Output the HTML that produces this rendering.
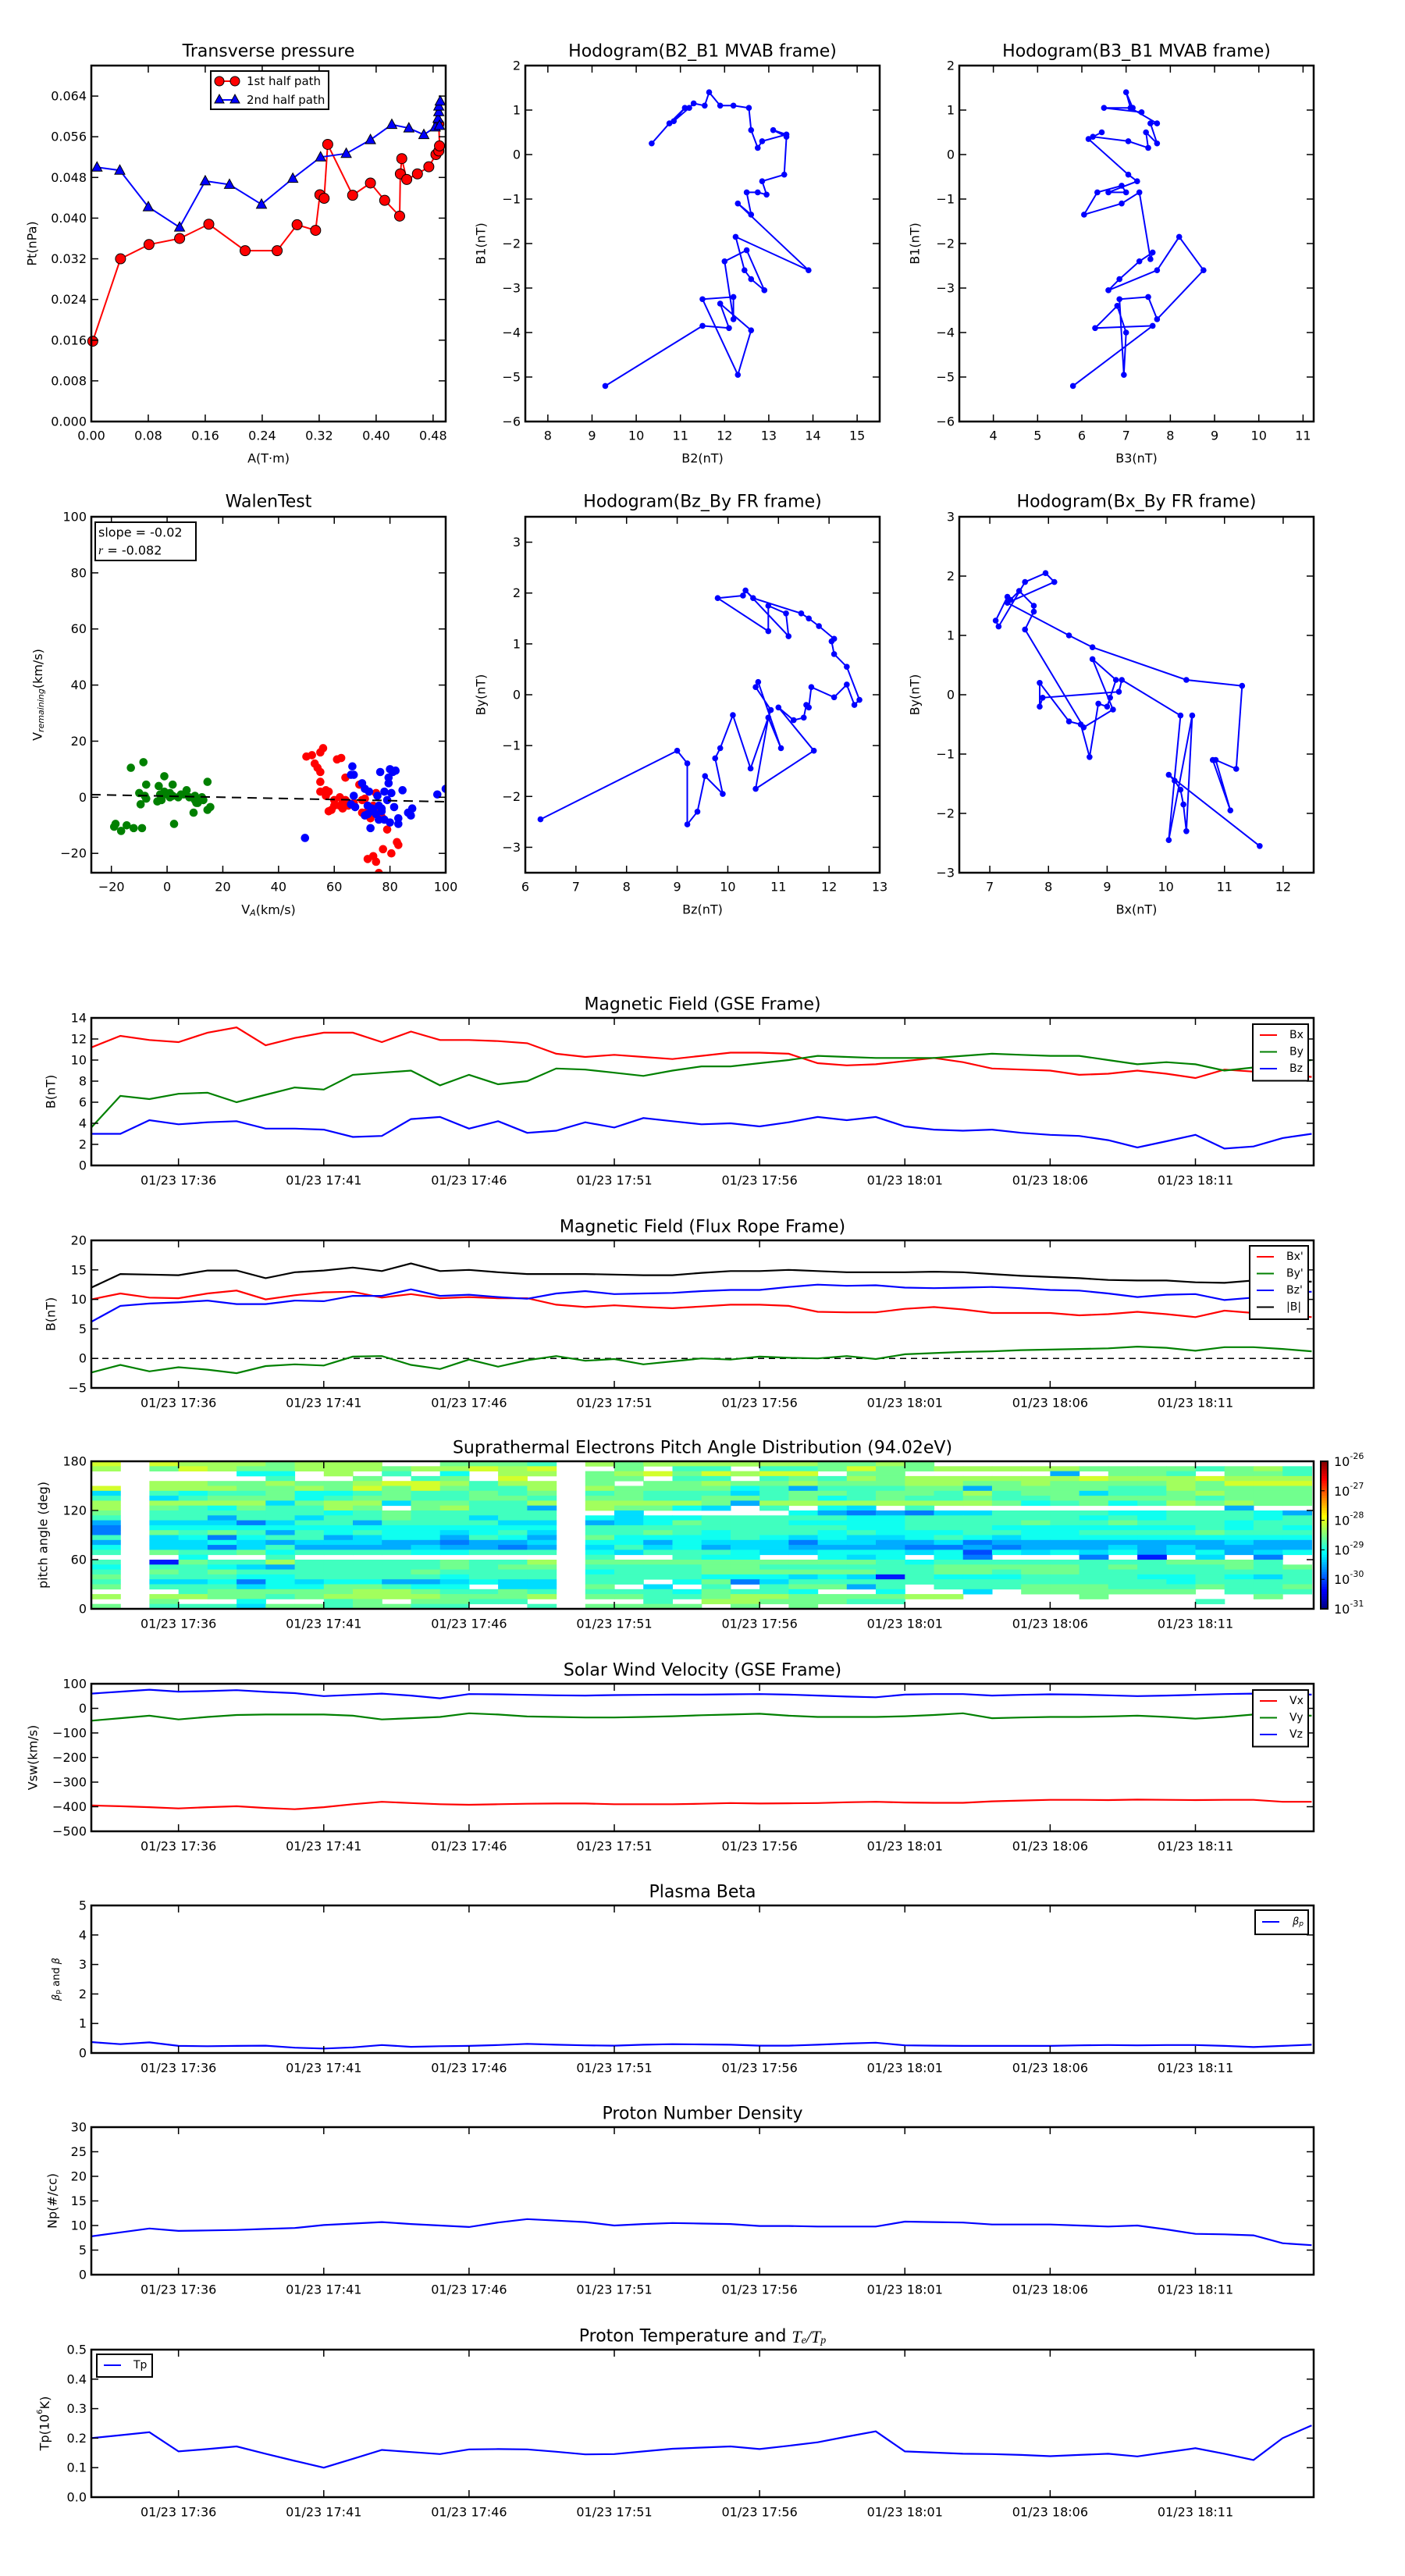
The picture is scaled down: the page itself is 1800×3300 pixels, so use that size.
<!DOCTYPE html>
<html><head><meta charset="utf-8"><title>Flux rope analysis</title>
<style>
html,body{margin:0;padding:0;background:#fff;}
svg{display:block;font-family:"DejaVu Sans","Liberation Sans",sans-serif;}
</style></head>
<body>
<svg id="fig" xmlns="http://www.w3.org/2000/svg" width="1800" height="3300" viewBox="0 0 1800 3300">
<rect x="0" y="0" width="1800" height="3300" fill="#fff"/>
</svg>
<script>
// ---------- DATA ----------
const ptRedA=[0.002,0.041,0.081,0.124,0.165,0.216,0.261,0.289,0.315,0.321,0.327,0.332,0.367,0.392,0.412,0.433,0.434,0.436,0.443,0.458,0.474,0.484,0.488,0.489,0.488];
const ptRedP=[0.0158,0.0320,0.0348,0.0360,0.0388,0.0336,0.0336,0.0387,0.0376,0.0446,0.0439,0.0545,0.0445,0.0469,0.0435,0.0404,0.0487,0.0517,0.0476,0.0487,0.0501,0.0525,0.0532,0.0542,0.0585];
const ptBlueA=[0.008,0.040,0.080,0.124,0.160,0.194,0.239,0.283,0.322,0.358,0.392,0.422,0.446,0.467,0.483,0.487,0.488,0.488,0.490,0.489];
const ptBlueP=[0.0500,0.0494,0.0422,0.0382,0.0473,0.0466,0.0427,0.0478,0.0520,0.0527,0.0554,0.0584,0.0577,0.0564,0.0579,0.0596,0.0609,0.0620,0.0630,0.0582];
const ptXTicks=[0,0.08,0.16,0.24,0.32,0.40,0.48];
const ptXLabels=["0.00","0.08","0.16","0.24","0.32","0.40","0.48"];
const ptYTicks=[0,0.008,0.016,0.024,0.032,0.040,0.048,0.056,0.064];
const ptYLabels=["0.000","0.008","0.016","0.024","0.032","0.040","0.048","0.056","0.064"];

const h1B2=[9.3,11.5,12.1,11.9,12.6,12.3,11.5,12.2,12.2,12.0,12.5,12.9,12.6,12.45,12.25,13.9,12.3,12.6,12.5,12.75,12.95,12.85,13.35,13.4,13.1,13.4,12.85,12.75,12.6,12.55,12.2,11.9,11.65,11.55,11.3,11.2,10.85,11.1,10.75,10.35];
const h1B1=[-5.2,-3.85,-3.9,-3.35,-3.95,-4.95,-3.25,-3.2,-3.7,-2.4,-2.15,-3.05,-2.8,-2.6,-1.85,-2.6,-1.1,-1.35,-0.85,-0.85,-0.9,-0.6,-0.45,0.4,0.55,0.45,0.3,0.15,0.55,1.05,1.1,1.1,1.4,1.1,1.15,1.05,0.75,1.05,0.7,0.25];
const h2B3=[5.8,7.6,6.3,6.8,7.0,6.95,6.85,7.5,7.7,8.75,8.2,7.7,6.6,6.85,7.3,7.6,7.55,7.3,6.9,6.05,6.35,6.9,7.0,6.6,7.25,7.05,6.15,6.45,6.25,7.05,7.5,7.45,7.7,7.55,7.7,7.1,7.0,7.15,6.5,7.35];
const h2B1=[-5.2,-3.85,-3.9,-3.4,-4.0,-4.95,-3.25,-3.2,-3.7,-2.6,-1.85,-2.6,-3.05,-2.8,-2.4,-2.2,-2.35,-0.85,-1.1,-1.35,-0.85,-0.7,-0.85,-0.85,-0.6,-0.45,0.35,0.5,0.4,0.3,0.15,0.5,0.25,0.7,0.7,1.05,1.4,1.05,1.05,0.95];
const h3Bz=[6.3,9.0,9.2,9.2,9.4,9.55,9.9,9.75,9.85,10.1,10.45,10.85,10.55,10.6,11.05,10.8,10.55,11.7,11.0,11.3,11.5,11.55,11.6,11.65,12.1,12.35,12.5,12.6,12.35,12.1,12.05,12.1,11.8,11.6,11.45,10.5,10.35,11.2,11.15,10.8,10.8,9.8,10.3];
const h3By=[-2.45,-1.1,-1.35,-2.55,-2.3,-1.6,-1.95,-1.25,-1.05,-0.4,-1.45,-0.3,0.15,0.25,-1.05,-0.45,-1.85,-1.1,-0.25,-0.5,-0.45,-0.2,-0.25,0.15,-0.05,0.2,-0.2,-0.1,0.55,0.8,1.05,1.1,1.35,1.5,1.6,1.9,2.05,1.15,1.6,1.75,1.25,1.9,1.95];
const h4Bx=[11.6,10.05,10.15,10.25,10.3,10.35,10.45,10.05,10.25,9.25,9.2,7.9,7.85,7.85,8.35,8.55,8.7,8.85,9.0,9.05,9.15,8.75,9.1,8.6,7.6,7.75,7.75,7.5,7.35,7.3,7.1,7.15,7.6,7.95,8.1,7.3,8.35,8.75,10.35,11.3,11.2,10.85,11.1,10.8];
const h4By=[-2.55,-1.35,-1.45,-1.6,-1.85,-2.3,-0.35,-2.45,-0.35,0.25,0.05,-0.05,-0.2,0.2,-0.45,-0.5,-1.05,-0.15,-0.2,-0.05,0.25,0.6,-0.25,-0.55,1.1,1.4,1.5,1.75,1.6,1.65,1.25,1.15,1.9,2.05,1.9,1.55,1.0,0.8,0.25,0.15,-1.25,-1.1,-1.95,-1.1];

const walGreenX=[-19,-18.5,-16.5,-14.5,-12,-9,-13,-8.5,-7.5,-10,-9.5,-7.5,-8,-3,-1,2,-3.5,-2,-2.5,0,1,2,4,5,7,8,10,10.5,11,12.5,13,14.5,14.5,15.5,9.5,2.5,-1,1,6,10];
const walGreenY=[-10.5,-9.5,-12,-10,-11,-11,10.5,12.5,4.5,1.5,-2.5,-0.5,0.5,4,7.5,4.5,-1.5,-1,1,1,0,0.5,0,1,2.5,0,0.5,-2,-2,0,-1,5.5,-4.5,-3.5,-5.5,-9.5,2,1.5,1,-1];
const walRedX=[50,52,53,54,55,56,55,55,55,57,58,58,59,60,61,62.5,64,62,63,63,62,65,67,69,70,70,72,73,75,74,76,77,79,82.5,83,80.5,77.5,72,74,75,76,71,60,57,64];
const walRedY=[14.5,15,12,10.5,16,17.5,9,5.5,2,2.5,2,-5,-4.5,-1,13.5,14,7,0,-2,-4,-3,-3,-2,4.5,-1,-5.5,-5,-7.5,1.5,-3,-5,-7,-11.5,-16,-17,-20,-18.5,-22,-21,-23,-27,-0.5,-3,0.5,-1];
const walBlueX=[49.5,66.5,66,67,67,66,67.5,70,71,72.5,71,72,72,73,73.5,75,75.5,76,76,77,77,76.5,78,79,79.5,79.5,80,81,82,80.5,81.5,80,83,83,84.5,86.5,87.5,88,97,100,78,74];
const walBlueY=[-14.5,11,8,8,0.5,-2.5,-3.5,5,3,2,-6.5,-3,-6,-11,-4,-6,0.5,-3,-8,-5,-4,9,2,-1,7,5,10,9,9.5,1.5,-3.5,-9,-7.5,-9.5,2.5,-5.5,-6.5,-4,1,3,-8,-5];
const walFit=[-0.02,0.4];

const timeTickIdx=[3,8,13,18,23,28,33,38];
const timeTickLabels=["01/23 17:36","01/23 17:41","01/23 17:46","01/23 17:51","01/23 17:56","01/23 18:01","01/23 18:06","01/23 18:11"];

const gseBx=[11.2,12.3,11.9,11.7,12.6,13.1,11.4,12.1,12.6,12.6,11.7,12.7,11.9,11.9,11.8,11.6,10.6,10.3,10.5,10.3,10.1,10.4,10.7,10.7,10.6,9.7,9.5,9.6,9.9,10.2,9.8,9.2,9.1,9.0,8.6,8.7,9.0,8.7,8.3,9.1,8.9,8.7,8.4];
const gseBy=[3.6,6.6,6.3,6.8,6.9,6.0,6.7,7.4,7.2,8.6,8.8,9.0,7.6,8.6,7.7,8.0,9.2,9.1,8.8,8.5,9.0,9.4,9.4,9.7,10.0,10.4,10.3,10.2,10.2,10.2,10.4,10.6,10.5,10.4,10.4,10.0,9.6,9.8,9.6,9.0,9.3,9.8,10.0];
const gseBz=[3.0,3.0,4.3,3.9,4.1,4.2,3.5,3.5,3.4,2.7,2.8,4.4,4.6,3.5,4.2,3.1,3.3,4.1,3.6,4.5,4.2,3.9,4.0,3.7,4.1,4.6,4.3,4.6,3.7,3.4,3.3,3.4,3.1,2.9,2.8,2.4,1.7,2.3,2.9,1.6,1.8,2.6,3.0];

const frBx=[10.0,11.0,10.3,10.2,11.0,11.5,10.0,10.7,11.2,11.3,10.3,10.9,10.2,10.4,10.2,10.2,9.1,8.7,9.0,8.7,8.5,8.8,9.1,9.1,8.9,7.9,7.8,7.8,8.4,8.7,8.3,7.7,7.7,7.7,7.3,7.5,7.9,7.5,7.0,8.1,7.7,7.5,7.0];
const frBy=[-2.4,-1.1,-2.2,-1.5,-1.9,-2.5,-1.3,-1.0,-1.2,0.3,0.4,-1.1,-1.8,-0.2,-1.4,-0.3,0.4,-0.4,-0.1,-1.0,-0.5,0.0,-0.2,0.3,0.1,0.0,0.4,-0.1,0.7,0.9,1.1,1.2,1.4,1.5,1.6,1.7,2.0,1.8,1.3,1.9,1.9,1.6,1.2];
const frBz=[6.2,8.9,9.3,9.5,9.8,9.2,9.2,9.8,9.7,10.6,10.6,11.7,10.6,10.8,10.4,10.1,11.0,11.4,10.9,11.0,11.1,11.4,11.6,11.6,12.1,12.5,12.3,12.4,12.0,11.9,12.0,12.1,11.9,11.6,11.5,11.0,10.4,10.8,10.9,9.9,10.3,11.2,11.3];
const frBt=[12.0,14.3,14.2,14.1,14.9,14.9,13.6,14.6,14.9,15.4,14.8,16.1,14.8,15.0,14.6,14.3,14.3,14.3,14.2,14.1,14.1,14.5,14.8,14.8,15.0,14.8,14.6,14.6,14.6,14.7,14.6,14.3,14.0,13.8,13.6,13.3,13.2,13.2,12.9,12.8,13.2,13.0,13.0];

// PAD: rows from 180 deg (top) to 0 deg (bottom), one char per minute column; '.' = no data, digit = level
const padRows=[
"9 . 98887888..7776 . 8788 88887787 .............",
"8 . 79877888788989 . .7.6 6.667977 8888877776786",
". . ...55.8.6.5.88 . 7897 9899.77. ....3.776.776",
". . ....6..7.67.9. . 77.6 6.676878 8888898889888",
". . 88778778998688 . 7.77 87787778 8778777787999",
"9 . 88877879797668 . 8777 75636667 7377776687777",
"4 . 65667556766767 . 6766 64677677 6867746678777",
"6 . 46777567766776 . 7766 77675676 6766777776777",
"8 . 88884788477668 . 8888 73888888 8875675687877",
"8 . 76576687.78663 . 8775 4.6.54.6 ..........3..",
"7 . 66666656766666 . .4.. ...53232 4466665566653",
"6 . 66366466766466 . 5455 66666556 6666656566656",
"3 . 44424663666644 . 3457 66655556 6667667666566",
"2 . 55555555555555 . 6666 66666556 6655555556565",
"2 . 76763656554564 . 6676 56665655 5665566667666",
"6 . 45256634553653 . 7555 56545445 6545555555555",
"3 . 44543444332334 . 5535 44424433 4233333333433",
"5 . 44246333343323 . 4645 34433332 2323334343333",
"6 . 76675666655666 . 5466 65445554 5154545345345",
". . .5..6......... . 6..6 55..545. 52...2.0.4.2.",
"6 . 07668666667668 . 7777 77777765 666666667776.",
"5 . 66543666667677 . 6666 77666666 7777767666767",
"6 . 76766666676666 . 5666 77777766 7767766666666",
"7 . 66655666665666 . 6666 55545406 5556666556546",
"6 . 44525455334544 . 66.5 72466666 6666666656666",
"7 . 66645577655.44 . 7.4. 6.67736. 6667776667667",
". . .6777778876676 . 6665 7665..5. .4.777777.666",
"8 . 88776788887778 . 7766 78877778 8....7.....7.",
". . 7..5..67.7766. . ..6. 8877766. .........6...",
"7 . 66647767766..6 . 7777 .7.7.... ............."
];
const padCbarTicks=[-26,-27,-28,-29,-30,-31];

const vswVx=[-395,-398,-402,-407,-402,-398,-405,-410,-402,-390,-380,-385,-390,-392,-390,-388,-387,-387,-390,-390,-390,-388,-385,-387,-386,-385,-382,-380,-383,-384,-384,-378,-375,-372,-372,-373,-371,-372,-373,-372,-372,-380,-380];
const vswVy=[-50,-40,-30,-45,-35,-27,-25,-25,-25,-30,-45,-40,-35,-20,-25,-33,-35,-37,-37,-35,-32,-28,-25,-22,-30,-35,-35,-35,-32,-27,-20,-40,-37,-35,-35,-33,-30,-35,-42,-35,-25,-28,-30];
const vswVz=[60,68,76,68,70,74,67,62,50,55,60,52,41,58,57,55,53,52,54,55,56,56,57,58,56,52,48,45,56,58,58,52,55,57,56,53,50,52,55,58,60,58,56];

const betaP=[0.37,0.30,0.36,0.24,0.23,0.24,0.25,0.18,0.15,0.19,0.27,0.21,0.23,0.24,0.27,0.31,0.28,0.26,0.25,0.28,0.30,0.29,0.28,0.25,0.25,0.28,0.32,0.35,0.26,0.25,0.24,0.24,0.24,0.24,0.26,0.27,0.26,0.27,0.27,0.24,0.20,0.24,0.28];
const densNp=[7.8,8.6,9.4,8.9,9.0,9.1,9.3,9.5,10.1,10.4,10.7,10.3,10.0,9.7,10.6,11.3,11.0,10.7,10.0,10.3,10.5,10.4,10.3,9.9,9.9,9.8,9.8,9.8,10.8,10.7,10.6,10.2,10.2,10.2,10.0,9.8,10.0,9.2,8.3,8.2,8.0,6.4,6.0];
const tempTp=[0.20,0.21,0.22,0.155,0.163,0.172,0.147,0.123,0.100,0.13,0.16,0.153,0.146,0.162,0.163,0.162,0.154,0.145,0.146,0.155,0.164,0.168,0.172,0.163,0.174,0.186,0.205,0.223,0.155,0.151,0.147,0.146,0.143,0.139,0.143,0.147,0.138,0.152,0.166,0.147,0.126,0.20,0.243];

// ---------- HELPERS ----------
const NS="http://www.w3.org/2000/svg";
const fig=document.getElementById('fig');
function mk(tag,attrs,parent){const e=document.createElementNS(NS,tag);for(const k in attrs)e.setAttribute(k,attrs[k]);(parent||fig).appendChild(e);return e;}
function txt(s,x,y,size,anchor,parent,extra){const e=mk('text',Object.assign({x:x,y:y,'font-size':size,'text-anchor':anchor||'middle','dominant-baseline':'central',fill:'#000'},extra||{}),parent);e.textContent=s;return e;}
function lin(a0,a1,b0,b1){return v=>b0+(v-a0)*(b1-b0)/(a1-a0);}

function axesFrame(g,x0,y0,x1,y1){
  const r=mk('rect',{x:x0,y:y0,width:x1-x0,height:y1-y0,fill:'none',stroke:'#000','stroke-width':2.5},g);
  
  
}
function xTicks(g,sx,ticks,labels,x0,y0,x1,y1,fs,ly){
  ticks.forEach((t,i)=>{const x=sx(t);
    mk('line',{x1:x,y1:y1,x2:x,y2:y1-9,stroke:'#000','stroke-width':1.5},g);
    mk('line',{x1:x,y1:y0,x2:x,y2:y0+9,stroke:'#000','stroke-width':1.5},g);
    const l=txt(labels[i],x,y1+(ly||19),fs||16,'middle',g);
    
    
  });
}
function yTicks(g,sy,ticks,labels,x0,y0,x1,y1,fs){
  ticks.forEach((t,i)=>{const y=sy(t);
    mk('line',{x1:x0,y1:y,x2:x0+9,y2:y,stroke:'#000','stroke-width':1.5},g);
    mk('line',{x1:x1,y1:y,x2:x1-9,y2:y,stroke:'#000','stroke-width':1.5},g);
    const l=txt(labels[i],x0-6,y,fs||16,'end',g);
    
    
  });
}
function pathD(xs,ys,sx,sy){return xs.map((v,i)=>(i?'L':'M')+sx(v).toFixed(1)+' '+sy(ys[i]).toFixed(1)).join(' ');}
function clipFor(id,x0,y0,x1,y1){const d=mk('clipPath',{id:id});mk('rect',{x:x0,y:y0,width:x1-x0,height:y1-y0},d);return 'url(#'+id+')';}

// ---------- TOP ROW ----------
// Transverse pressure
(function(){
  const g=mk('g',{});
  
  
  const x0=117,x1=571,y0=84,y1=540;
  const sx=lin(0,0.4977,x0,x1), sy=lin(0,0.0700,y1,y0);
  const cp=clipFor('c1',x0-8,y0-8,x1+8,y1+8);
  const gr=mk('g',{'clip-path':cp},g);
  const red=mk('path',{d:pathD(ptRedA,ptRedP,sx,sy),fill:'none',stroke:'#ff0000','stroke-width':2},gr);
  
  
  ptRedA.forEach((a,i)=>{const c=mk('circle',{cx:sx(a),cy:sy(ptRedP[i]),r:6.5,fill:'#ff0000',stroke:'#000','stroke-width':1},gr);
    
    });
  const blue=mk('path',{d:pathD(ptBlueA,ptBlueP,sx,sy),fill:'none',stroke:'#0000ff','stroke-width':2},gr);
  
  
  ptBlueA.forEach((a,i)=>{const x=sx(a),y=sy(ptBlueP[i]);const t=mk('polygon',{points:`${x},${y-7} ${x-6.5},${y+5} ${x+6.5},${y+5}`,fill:'#0000ff',stroke:'#000','stroke-width':1},gr);
    
    });
  axesFrame(g,x0,y0,x1,y1);
  xTicks(g,sx,ptXTicks,ptXLabels,x0,y0,x1,y1,16,18);
  yTicks(g,sy,ptYTicks,ptYLabels,x0,y0,x1,y1,16);
  const t=txt('Transverse pressure',(x0+x1)/2,66,22,'middle',g);
  
  
  const xl=txt('A(T·m)',(x0+x1)/2,587,16,'middle',g);
  
  
  const yl=txt('Pt(nPa)',41,(y0+y1)/2,16,'middle',g,{transform:`rotate(-90 41 ${(y0+y1)/2})`});
  
  
  const lg=mk('g',{},g);
  
  
  mk('rect',{x:270,y:91,width:151,height:49,fill:'#fff',stroke:'#000','stroke-width':2},lg);
  mk('line',{x1:281,y1:104,x2:301,y2:104,stroke:'#ff0000','stroke-width':2},lg);
  mk('circle',{cx:281,cy:104,r:6,fill:'#ff0000',stroke:'#000'},lg);
  mk('circle',{cx:301,cy:104,r:6,fill:'#ff0000',stroke:'#000'},lg);
  const e1=txt('1st half path',316,104,15,'start',lg);
  
  
  mk('line',{x1:281,y1:128,x2:301,y2:128,stroke:'#0000ff','stroke-width':2},lg);
  mk('polygon',{points:'281,121 275,132 287,132',fill:'#0000ff',stroke:'#000'},lg);
  mk('polygon',{points:'301,121 295,132 307,132',fill:'#0000ff',stroke:'#000'},lg);
  const e2=txt('2nd half path',316,128,15,'start',lg);
  
  
})();

function hodogram(id,name,title,xs,ys,box,xr,yr,xt,yt,xlab,ylab,titleY,xlabY){
  const g=mk('g',{});
  
  
  const [x0,y0,x1,y1]=box;
  const sx=lin(xr[0],xr[1],x0,x1), sy=lin(yr[0],yr[1],y1,y0);
  const cp=clipFor(id,x0,y0,x1,y1);
  const gr=mk('g',{'clip-path':cp},g);
  const p=mk('path',{d:pathD(xs,ys,sx,sy),fill:'none',stroke:'#0000ff','stroke-width':2},gr);
  
  
  xs.forEach((v,i)=>{const c=mk('circle',{cx:sx(v),cy:sy(ys[i]),r:3.8,fill:'#0000ff'},gr);
    
    });
  axesFrame(g,x0,y0,x1,y1);
  xTicks(g,sx,xt,xt.map(v=>String(v).replace('-','−')),x0,y0,x1,y1,16,18);
  yTicks(g,sy,yt,yt.map(v=>String(v).replace('-','−')),x0,y0,x1,y1,16);
  const t=txt(title,(x0+x1)/2,titleY,22,'middle',g);
  
  
  const xl=txt(xlab,(x0+x1)/2,xlabY,16,'middle',g);
  
  
  const ly=(y0+y1)/2, lx=x0-57;
  const yl=txt(ylab,lx,ly,16,'middle',g,{transform:`rotate(-90 ${lx} ${ly})`});
  
  
}
hodogram('c2','hodogram-b2-b1','Hodogram(B2_B1 MVAB frame)',h1B2,h1B1,[673,84,1127,540],[7.49,15.51],[-6,2],[8,9,10,11,12,13,14,15],[-6,-5,-4,-3,-2,-1,0,1,2],'B2(nT)','B1(nT)',66,587);
hodogram('c3','hodogram-b3-b1','Hodogram(B3_B1 MVAB frame)',h2B3,h2B1,[1229,84,1683,540],[3.23,11.24],[-6,2],[4,5,6,7,8,9,10,11],[-6,-5,-4,-3,-2,-1,0,1,2],'B3(nT)','B1(nT)',66,587);
hodogram('c5','hodogram-bz-by','Hodogram(Bz_By FR frame)',h3Bz,h3By,[673,662,1127,1118],[6,13],[-3.5,3.5],[6,7,8,9,10,11,12,13],[-3,-2,-1,0,1,2,3],'Bz(nT)','By(nT)',643,1165);
hodogram('c6','hodogram-bx-by','Hodogram(Bx_By FR frame)',h4Bx,h4By,[1229,662,1683,1118],[6.48,12.52],[-3,3],[7,8,9,10,11,12],[-3,-2,-1,0,1,2,3],'Bx(nT)','By(nT)',643,1165);

// Walen test
(function(){
  const g=mk('g',{});
  
  
  const x0=117,y0=662,x1=571,y1=1118;
  const sx=lin(-27.2,100,x0,x1), sy=lin(-26.9,100,y1,y0);
  const cp=clipFor('c4',x0,y0,x1,y1);
  const gr=mk('g',{'clip-path':cp},g);
  function dots(xs,ys,col,nm){xs.forEach((v,i)=>{const c=mk('circle',{cx:sx(v),cy:sy(ys[i]),r:5.3,fill:col},gr);
    
    });}
  dots(walGreenX,walGreenY,'#008000','walen-point-green');
  dots(walRedX,walRedY,'#ff0000','walen-point-red');
  dots(walBlueX,walBlueY,'#0000ff','walen-point-blue');
  const fl=mk('line',{x1:sx(-27.2),y1:sy(walFit[0]*-27.2+walFit[1]),x2:sx(100),y2:sy(walFit[0]*100+walFit[1]),stroke:'#000','stroke-width':2,'stroke-dasharray':'12 8'},gr);
  
  
  axesFrame(g,x0,y0,x1,y1);
  xTicks(g,sx,[-20,0,20,40,60,80,100],['−20','0','20','40','60','80','100'],x0,y0,x1,y1,16,18);
  yTicks(g,sy,[-20,0,20,40,60,80,100],['−20','0','20','40','60','80','100'],x0,y0,x1,y1,16);
  const t=txt('WalenTest',(x0+x1)/2,643,22,'middle',g);
  
  
  const xl=mk('text',{x:(x0+x1)/2,y:1165,'font-size':16,'text-anchor':'middle','dominant-baseline':'central'},g);
  xl.innerHTML='V<tspan font-size="11" font-style="italic" dy="4">A</tspan><tspan dy="-4">(km/s)</tspan>';
  
  
  const yl=mk('text',{x:48,y:890,'font-size':16,'text-anchor':'middle','dominant-baseline':'central',transform:'rotate(-90 48 890)'},g);
  yl.innerHTML='V<tspan font-size="11" font-style="italic" dy="4">remaining</tspan><tspan dy="-4">(km/s)</tspan>';
  
  
  const bx=mk('g',{},g);
  
  
  mk('rect',{x:122,y:669,width:129,height:49,fill:'#fff',stroke:'#000','stroke-width':2},bx);
  txt('slope = -0.02',126,682,16,'start',bx);
  const r=mk('text',{x:126,y:705,'font-size':16,'dominant-baseline':'central'},bx);
  r.innerHTML='<tspan font-style="italic" font-family="Liberation Serif,serif">r</tspan> = -0.082';
})();

// ---------- TIME SERIES ----------
const TX0=117,TX1=1683,TMAX=42.07;
const sxT=lin(0,TMAX,TX0,TX1);
const idx=gseBx.map((_,i)=>i);
function tsPanel(name,title,top,yr,yt,ylabels,ylab,ylabX){
  const g=mk('g',{});
  
  
  const y0=top,y1=top+189;
  const sy=lin(yr[0],yr[1],y1,y0);
  const t=txt(title,(TX0+TX1)/2,top-17,22,'middle',g);
  
  
  const ly=(y0+y1)/2;
  const yl=mk('text',{x:ylabX,y:ly,'font-size':16,'text-anchor':'middle','dominant-baseline':'central',transform:`rotate(-90 ${ylabX} ${ly})`},g);
  yl.innerHTML=ylab;
  
  
  const cp=clipFor('cp'+name,TX0,y0,TX1,y1);
  const gr=mk('g',{'clip-path':cp},g);
  return {g,gr,sy,y0,y1,finish:()=>{axesFrame(g,TX0,y0,TX1,y1);
    xTicks(g,sxT,timeTickIdx,timeTickLabels,TX0,y0,TX1,y1,16,19);
    yTicks(g,sy,yt,ylabels,TX0,y0,TX1,y1,16);}};
}
function series(P,vals,col,nm){const p=mk('path',{d:pathD(idx,vals,sxT,P.sy),fill:'none',stroke:col,'stroke-width':2.2},P.gr);
  
  }
function legend(P,x,y,w,entries,fs){
  const lg=mk('g',{},P.g);
  
  
  mk('rect',{x:x,y:y,width:w,height:entries.length*21.5+8,fill:'#fff',stroke:'#000','stroke-width':2},lg);
  entries.forEach((e,i)=>{const yy=y+14+i*21.5;
    mk('line',{x1:x+9,y1:yy,x2:x+31,y2:yy,stroke:e[1],'stroke-width':2},lg);
    const t=mk('text',{x:x+47,y:yy,'font-size':fs||14,'dominant-baseline':'central'},lg);
    t.innerHTML=e[0];
    
    });
}

// GSE
(function(){
  const P=tsPanel('magnetic-field-gse-chart','Magnetic Field (GSE Frame)',1304,[0,14],[0,2,4,6,8,10,12,14],['0','2','4','6','8','10','12','14'],'B(nT)',65);
  series(P,gseBx,'#ff0000','bx-line');
  series(P,gseBy,'#008000','by-line');
  series(P,gseBz,'#0000ff','bz-line');
  P.finish();
  legend(P,1605,1312,71,[['Bx','#ff0000'],['By','#008000'],['Bz','#0000ff']]);
})();
// FR
(function(){
  const P=tsPanel('magnetic-field-flux-rope-chart','Magnetic Field (Flux Rope Frame)',1589,[-5,20],[-5,0,5,10,15,20],['−5','0','5','10','15','20'],'B(nT)',65);
  const z=mk('line',{x1:TX0,y1:P.sy(0),x2:TX1,y2:P.sy(0),stroke:'#000','stroke-width':1.5,'stroke-dasharray':'8 6'},P.gr);
  
  
  series(P,frBx,'#ff0000','bx-prime-line');
  series(P,frBy,'#008000','by-prime-line');
  series(P,frBz,'#0000ff','bz-prime-line');
  series(P,frBt,'#000000','btotal-line');
  P.finish();
  legend(P,1601,1596,75,[["Bx'",'#ff0000'],["By'",'#008000'],["Bz'",'#0000ff'],['|B|','#000000']]);
})();
// PAD
function jet(t){const c=v=>Math.round(255*Math.max(0,Math.min(1,v)));return `rgb(${c(1.5-Math.abs(4*t-3))},${c(1.5-Math.abs(4*t-2))},${c(1.5-Math.abs(4*t-1))})`;}
(function(){
  const P=tsPanel('pitch-angle-distribution-chart','Suprathermal Electrons Pitch Angle Distribution (94.02eV)',1872,[0,180],[0,60,120,180],['0','60','120','180'],'pitch angle (deg)',55);
  const nRows=padRows.length, rh=189/nRows;
  padRows.forEach((row,r)=>{const s=row.replace(/ /g,'');
    for(let c=0;c<42;c++){const ch=s[c];if(!ch||ch==='.')continue;
      const logv=-31+5*(0.15+Number(ch)*0.048);
      const t=(logv+31)/5;
      const cell=mk('rect',{x:sxT(c).toFixed(1),y:(P.y0+r*rh).toFixed(1),width:(sxT(c+1)-sxT(c)+0.6).toFixed(1),height:(rh+0.4).toFixed(1),fill:jet(t)},P.gr);
      
      }});
  P.finish();
  const cb=mk('g',{});
  
  
  const n=60;
  for(let i=0;i<n;i++){mk('rect',{x:1692,y:(1872+i*189/n).toFixed(2),width:9,height:(189/n+0.5).toFixed(2),fill:jet(1-(i+0.5)/n)},cb);}
  mk('rect',{x:1692,y:1872,width:9,height:189,fill:'none',stroke:'#000','stroke-width':2},cb);
  padCbarTicks.forEach(v=>{const y=1872+(-26-v)*189/5;
    mk('line',{x1:1692,y1:y,x2:1697,y2:y,stroke:'#000'},cb);
    const t=mk('text',{x:1709,y:y+6,'font-size':16},cb);
    t.innerHTML='10<tspan font-size="11" dy="-9">'+String(v).replace('-','-')+'</tspan>';
    
    });
})();
// Velocity
(function(){
  const P=tsPanel('solar-wind-velocity-chart','Solar Wind Velocity (GSE Frame)',2157,[-500,100],[-500,-400,-300,-200,-100,0,100],['−500','−400','−300','−200','−100','0','100'],'Vsw(km/s)',42);
  series(P,vswVx,'#ff0000','vx-line');
  series(P,vswVy,'#008000','vy-line');
  series(P,vswVz,'#0000ff','vz-line');
  P.finish();
  legend(P,1605,2165,71,[['Vx','#ff0000'],['Vy','#008000'],['Vz','#0000ff']]);
})();
// Beta
(function(){
  const P=tsPanel('plasma-beta-chart','Plasma Beta',2441,[0,5],[0,1,2,3,4,5],['0','1','2','3','4','5'],'<tspan font-style="italic" font-size="13">β</tspan><tspan font-size="9" dy="3">p</tspan><tspan dy="-3" font-size="13"> and </tspan><tspan font-style="italic" font-size="13">β</tspan>',72);
  series(P,betaP,'#0000ff','beta-p-line');
  P.finish();
  const lg=mk('g',{},P.g);
  
  
  mk('rect',{x:1608,y:2447,width:68,height:31,fill:'#fff',stroke:'#000','stroke-width':2},lg);
  mk('line',{x1:1617,y1:2462,x2:1639,y2:2462,stroke:'#0000ff','stroke-width':2},lg);
  const t=mk('text',{x:1656,y:2462,'font-size':13,'dominant-baseline':'central','font-style':'italic'},lg);
  t.innerHTML='β<tspan font-size="9" dy="3">p</tspan>';
  
  
})();
// Density
(function(){
  const P=tsPanel('proton-density-chart','Proton Number Density',2725,[0,30],[0,5,10,15,20,25,30],['0','5','10','15','20','25','30'],'Np(#/cc)',67);
  series(P,densNp,'#0000ff','np-line');
  P.finish();
})();
// Temperature
(function(){
  const P=tsPanel('proton-temperature-chart','',3010,[0,0.5],[0,0.1,0.2,0.3,0.4,0.5],['0.0','0.1','0.2','0.3','0.4','0.5'],'Tp(10<tspan font-size="10" dy="-6">6</tspan><tspan dy="6">K)</tspan>',57);
  const tt=mk('text',{x:900,y:2993,'font-size':22,'text-anchor':'middle','dominant-baseline':'central'},P.g);
  tt.innerHTML='Proton Temperature and <tspan font-style="italic" font-family="Liberation Serif,serif">T</tspan><tspan font-style="italic" font-size="14" dy="5" font-family="Liberation Serif,serif">e</tspan><tspan dy="-5" font-style="italic" font-family="Liberation Serif,serif">/T</tspan><tspan font-style="italic" font-size="14" dy="5" font-family="Liberation Serif,serif">p</tspan>';
  
  
  series(P,tempTp,'#0000ff','tp-line');
  P.finish();
  const lg=mk('g',{},P.g);
  
  
  mk('rect',{x:124,y:3016,width:71,height:29,fill:'#fff',stroke:'#000','stroke-width':2},lg);
  mk('line',{x1:133,y1:3030,x2:155,y2:3030,stroke:'#0000ff','stroke-width':2},lg);
  const t=txt('Tp',171,3030,14,'start',lg);
  
  
})();
</script>
</body></html>
